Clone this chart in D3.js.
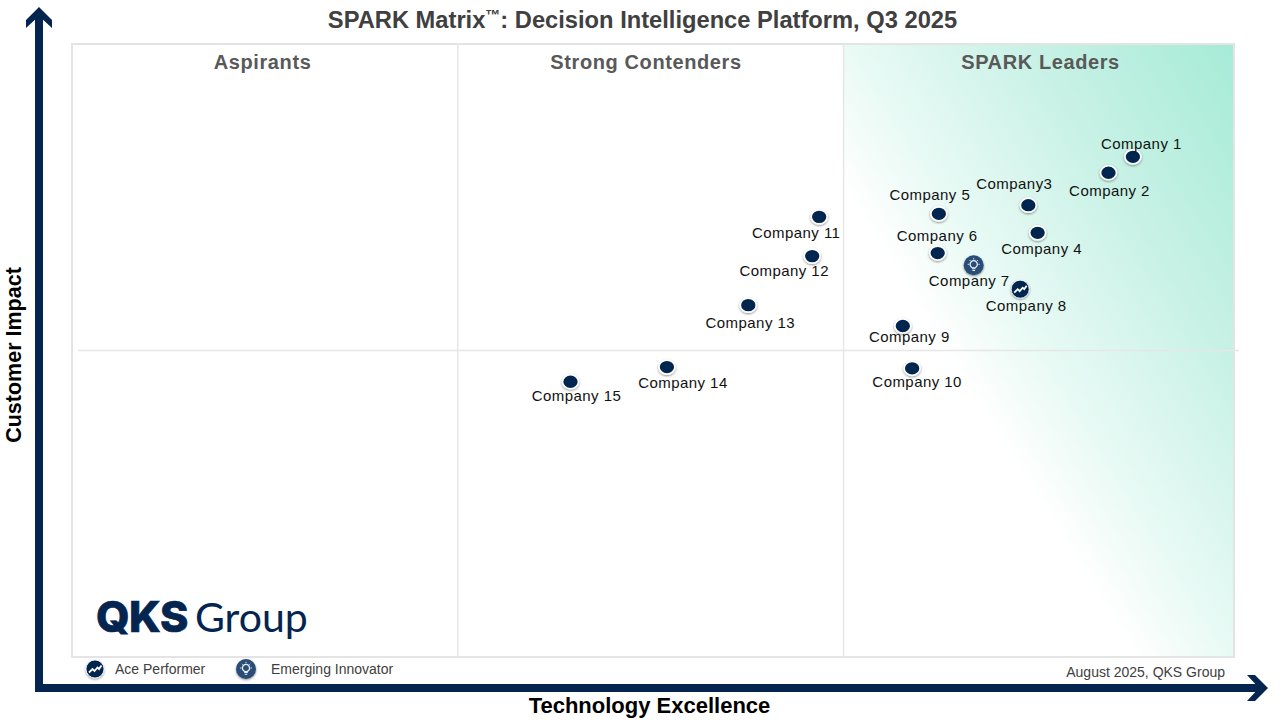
<!DOCTYPE html>
<html>
<head>
<meta charset="utf-8">
<script src="https://cdn.jsdelivr.net/npm/d3@7"></script>
<style>
  html, body { margin: 0; padding: 0; background: #fff; }
  text { font-family: "Liberation Sans", Arial, sans-serif; }
</style>
</head>
<body>
<div id="chart"></div>
<script>
// data (both scales run 0-100)
const companies = ["Company 1", "Company 2", "Company3", "Company 4", "Company 5", "Company 6", "Company 7", "Company 8",
                   "Company 9", "Company 10", "Company 11", "Company 12", "Company 13", "Company 14", "Company 15"];
const technology = [91.3, 89.2, 82.3, 83.1, 74.6, 74.5, 77.6, 81.6, 71.5, 72.3, 64.3, 63.7, 58.2, 51.2, 42.9];
const impact = [81.6, 79.0, 73.7, 69.2, 72.3, 65.9, 63.9, 60.0, 54.0, 47.1, 71.8, 65.4, 57.4, 47.3, 44.9];
const badges = ["", "", "", "", "", "", "innovator", "ace", "", "", "", "", "", "", ""];
const quadrants = ["Aspirants", "Strong Contenders", "SPARK Leaders"];
const quadrantSplits = [33.2, 66.4];
const legendItems = [{key: "ace", label: "Ace Performer"}, {key: "innovator", label: "Emerging Innovator"}];

// label offsets from the marker, layout only
const labelDx = [8.5, 1, -14, 4, -9, -0.5, -4.5, 6, 6.5, 5, -23, -28, 2, 16, 6];
const labelDy = [-13, 18, -21, 16, -19, -17, 15, 17, 11, 13, 16, 15, 18, 16, 14];
const quadrantLabelX = [16.4, 49.4, 83.35];

const width = 1280, height = 720;
const navy = "#03254f";
const plot = {left: 72, right: 1234, top: 44, bottom: 657};

const svg = d3.select("#chart").append("svg")
    .attr("width", width)
    .attr("height", height)
    .style("display", "block");

const x = d3.scaleLinear().domain([0, 100]).range([plot.left, plot.right]);
const y = d3.scaleLinear().domain([0, 100]).range([plot.bottom, plot.top]);

const defs = svg.append("defs");

// green wash in the leaders box, runs diagonally up to the top right corner
const grad = defs.append("linearGradient")
    .attr("id", "leaders")
    .attr("gradientUnits", "userSpaceOnUse")
    .attr("x1", 957).attr("y1", 373)
    .attr("x2", 1304).attr("y2", 157);
grad.selectAll("stop")
  .data([[0, "#ffffff"], [0.2, "#e9faf5"], [0.6, "#c6f1e4"], [1, "#a6ebd7"]])
  .join("stop")
    .attr("offset", d => d[0])
    .attr("stop-color", d => d[1]);

const shadow = defs.append("filter")
    .attr("id", "shadow")
    .attr("x", "-40%").attr("y", "-40%").attr("width", "180%").attr("height", "180%");
shadow.append("feDropShadow")
    .attr("dx", 0).attr("dy", 1)
    .attr("stdDeviation", 1.2)
    .attr("flood-color", "#000")
    .attr("flood-opacity", 0.45);

// quadrant box
svg.append("rect")
    .attr("x", x(quadrantSplits[1])).attr("y", y(100))
    .attr("width", x(100) - x(quadrantSplits[1])).attr("height", y(0) - y(100))
    .attr("fill", "url(#leaders)");

svg.append("rect")
    .attr("x", plot.left).attr("y", plot.top)
    .attr("width", plot.right - plot.left).attr("height", plot.bottom - plot.top)
    .attr("fill", "none")
    .attr("stroke", "#e4e4e4")
    .attr("stroke-width", 2);

svg.selectAll(".vgrid")
  .data(quadrantSplits)
  .join("line")
    .attr("class", "vgrid")
    .attr("x1", d => x(d)).attr("x2", d => x(d))
    .attr("y1", y(100)).attr("y2", y(0))
    .attr("stroke", "#e6e6e6")
    .attr("stroke-width", 1.5);

svg.append("line")
    .attr("x1", 78).attr("x2", 1239)
    .attr("y1", y(50)).attr("y2", y(50))
    .attr("stroke", "#e6e6e6")
    .attr("stroke-width", 1.5);

// quadrant names
svg.selectAll(".quad")
  .data(quadrants)
  .join("text")
    .attr("class", "quad")
    .attr("x", (d, i) => x(quadrantLabelX[i]))
    .attr("y", 69)
    .attr("text-anchor", "middle")
    .attr("font-size", 20)
    .attr("letter-spacing", 0.6)
    .attr("font-weight", "bold")
    .attr("fill", "#595959")
    .text(d => d);

// title
const title = svg.append("text")
    .attr("x", 642.5)
    .attr("y", 28)
    .attr("text-anchor", "middle")
    .attr("font-size", 23.7)
    .attr("font-weight", "bold")
    .attr("fill", "#404040");
title.append("tspan").text("SPARK Matrix");
title.append("tspan").attr("font-size", 15).attr("dy", -8).text("™");
title.append("tspan").attr("dy", 8).text(": Decision Intelligence Platform, Q3 2025");

// axes arrows
svg.append("path")
    .attr("d", "M39 692V12")
    .attr("stroke", navy).attr("stroke-width", 8).attr("fill", "none");
svg.append("path")
    .attr("d", "M39 7L52 20V28L39 16L26 28V20Z")
    .attr("fill", navy);
svg.append("path")
    .attr("d", "M35 688H1262")
    .attr("stroke", navy).attr("stroke-width", 8).attr("fill", "none");
svg.append("path")
    .attr("d", "M1268 688L1255 675H1247L1259 688L1247 701H1255Z")
    .attr("fill", navy);

svg.append("text")
    .attr("transform", "translate(21,355) rotate(-90)")
    .attr("text-anchor", "middle")
    .attr("font-size", 21.5)
    .attr("font-weight", "bold")
    .attr("fill", "#000")
    .text("Customer Impact");

svg.append("text")
    .attr("x", 649.5)
    .attr("y", 713)
    .attr("text-anchor", "middle")
    .attr("font-size", 22)
    .attr("font-weight", "bold")
    .attr("fill", "#000")
    .text("Technology Excellence");

svg.append("text")
    .attr("x", 1225)
    .attr("y", 677)
    .attr("text-anchor", "end")
    .attr("font-size", 14)
    .attr("fill", "#404040")
    .text("August 2025, QKS Group");

// logo
svg.append("text")
    .attr("x", 96)
    .attr("y", 632)
    .attr("font-size", 43)
    .attr("font-weight", 800)
    .attr("letter-spacing", -0.5)
    .attr("fill", navy)
    .attr("stroke", navy)
    .attr("stroke-width", 0.7)
    .style("font-family", "Inter")
    .text("QKS");
svg.append("text")
    .attr("x", 195)
    .attr("y", 632)
    .attr("font-size", 41)
    .attr("font-weight", 400)
    .attr("fill", navy)
    .style("font-family", "Lato")
    .text("Group");

function drawBadge(g, key) {
  if (key === "ace") {
    g.append("path")
        .attr("d", "M-6 3.5L-2.5 0L-0.5 2L2.5 -1.5L4 0L6.5 -3.5")
        .attr("fill", "none").attr("stroke", "#fff").attr("stroke-width", 1.8);
  } else if (key === "innovator") {
    g.append("circle")
        .attr("cy", -1).attr("r", 3.6)
        .attr("fill", "none").attr("stroke", "#e8eef4").attr("stroke-width", 1.3);
    g.append("path")
        .attr("d", "M-1.8 3.4H1.8M-1.3 5.2H1.3")
        .attr("stroke", "#e8eef4").attr("stroke-width", 1.1);
    g.append("path")
        .attr("d", "M0 -7.2V-5.8M-6 -1H-4.6M4.6 -1H6M-4.2 -5.2L-3.3 -4.3M4.2 -5.2L3.3 -4.3")
        .attr("stroke", "#e8eef4").attr("stroke-width", 0.9);
  }
}

function drawMarker(g, key) {
  if (key === "ace") {
    g.append("circle").attr("r", 9).attr("fill", navy).attr("stroke", "#fff").attr("stroke-width", 0.8).attr("filter", "url(#shadow)");
  } else if (key === "innovator") {
    g.append("circle").attr("r", 10).attr("fill", "#2b4d78").attr("filter", "url(#shadow)");
  } else {
    g.append("ellipse").attr("rx", 8).attr("ry", 7).attr("fill", navy)
        .attr("stroke", "#fff").attr("stroke-width", 1.7).attr("filter", "url(#shadow)");
  }
  drawBadge(g, key);
}

// companies
const points = companies.map((name, i) => ({name, tech: technology[i], imp: impact[i], badge: badges[i], dx: labelDx[i], dy: labelDy[i]}));

svg.selectAll(".company")
  .data(points)
  .join("g")
    .attr("class", "company")
    .attr("transform", d => `translate(${x(d.tech)},${y(d.imp)})`)
    .each(function(d) { drawMarker(d3.select(this), d.badge); });

svg.selectAll(".company-label")
  .data(points)
  .join("text")
    .attr("class", "company-label")
    .attr("x", d => x(d.tech) + d.dx)
    .attr("y", d => y(d.imp) + d.dy)
    .attr("dy", "0.35em")
    .attr("text-anchor", "middle")
    .attr("font-size", 15)
    .attr("letter-spacing", 0.45)
    .attr("fill", "#111")
    .text(d => d.name);

// legend
const legendX = d3.scaleOrdinal().domain(legendItems.map(d => d.key)).range([95, 246]);
const legendGap = d3.scaleOrdinal().domain(legendItems.map(d => d.key)).range([20, 25]);

const legend = svg.selectAll(".legend")
  .data(legendItems)
  .join("g")
    .attr("class", "legend")
    .attr("transform", d => `translate(${legendX(d.key)},669)`);
legend.each(function(d) { drawMarker(d3.select(this), d.key); });
legend.append("text")
    .attr("x", d => legendGap(d.key))
    .attr("y", 5)
    .attr("font-size", 14)
    .attr("fill", "#404040")
    .text(d => d.label);
</script>
</body>
</html>
